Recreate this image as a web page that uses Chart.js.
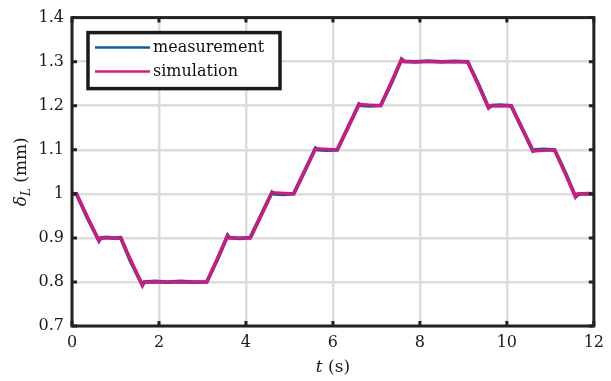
<!DOCTYPE html>
<html>
<head>
<meta charset="utf-8">
<script src="https://cdn.jsdelivr.net/npm/chart.js@4"></script>
<style>
  html, body { margin: 0; padding: 0; background: #fff; }
  #c { display: block; }
</style>
</head>
<body>
<canvas id="c" width="611" height="381"></canvas>
<script>
// time (s) and displacement (mm)
const simT = [0, 0.1, 0.62, 0.66, 1.12, 1.62, 1.66, 3.1, 3.58, 3.62, 4.1, 4.6, 5.1, 5.6, 6.1, 6.6, 7.1, 7.58, 7.62, 9.1, 9.58, 9.62, 10.1, 10.6, 11.1, 11.58, 11.62, 12];
const simY = [1.0, 1.0, 0.893, 0.9, 0.9, 0.792, 0.8, 0.8, 0.905, 0.9, 0.9, 1.003, 1.0, 1.103, 1.1, 1.203, 1.2, 1.305, 1.3, 1.3, 1.195, 1.2, 1.2, 1.097, 1.1, 0.993, 1.0, 1.0];

const measT = [0, 0.05, 0.1, 0.35, 0.62, 0.66, 0.8, 0.95, 1.12, 1.35, 1.62, 1.66, 1.9, 2.2, 2.5, 2.8, 3.1, 3.35, 3.58, 3.62, 3.85, 4.1, 4.35, 4.6, 4.65, 4.85, 5.1, 5.35, 5.6, 5.65, 5.85, 6.1, 6.35, 6.6, 6.65, 6.85, 7.1, 7.35, 7.58, 7.65, 7.9, 8.2, 8.5, 8.8, 9.1, 9.35, 9.58, 9.65, 9.85, 10.1, 10.35, 10.6, 10.65, 10.85, 11.1, 11.35, 11.58, 11.65, 11.85, 12];
const measY = [1.001, 0.9995, 1.0, 0.9465, 0.8935, 0.8995, 0.901, 0.8995, 0.9005, 0.8465, 0.7925, 0.7995, 0.801, 0.7995, 0.801, 0.7995, 0.8, 0.8525, 0.9055, 0.9005, 0.899, 0.9005, 0.9515, 1.0035, 1.0, 0.999, 1.0005, 1.0515, 1.1035, 1.1005, 1.0995, 1.1, 1.1515, 1.2035, 1.2005, 1.1995, 1.2005, 1.2525, 1.3055, 1.3005, 1.2995, 1.301, 1.2995, 1.3005, 1.2995, 1.2475, 1.1955, 1.2, 1.201, 1.1995, 1.1485, 1.0975, 1.1, 1.101, 1.0995, 1.0465, 0.9935, 0.9995, 1.0005, 1.0];

const xTicks = [0, 2, 4, 6, 8, 10, 12];
const yTicks = [0.7, 0.8, 0.9, 1.0, 1.1, 1.2, 1.3, 1.4];
const seriesNames = ['measurement', 'simulation'];
const seriesColors = ['#0b5ea6', '#e2127a'];

const FONT = 'DejaVu Serif';
const TEXT = '#1a1a1a';

const toXY = (ts, ys) => ts.map((t, i) => ({ x: t, y: ys[i] }));

const matlabFrame = {
  id: 'matlabFrame',
  afterDraw(chart) {
    const { ctx, chartArea: a, scales: { x, y } } = chart;
    ctx.save();
    // inward ticks
    ctx.strokeStyle = '#222';
    ctx.lineWidth = 3;
    const tl = 5;
    xTicks.forEach(v => {
      const px = x.getPixelForValue(v);
      ctx.beginPath();
      ctx.moveTo(px, a.bottom); ctx.lineTo(px, a.bottom - tl);
      ctx.moveTo(px, a.top); ctx.lineTo(px, a.top + tl);
      ctx.stroke();
    });
    yTicks.forEach(v => {
      const py = y.getPixelForValue(v);
      ctx.beginPath();
      ctx.moveTo(a.left, py); ctx.lineTo(a.left + tl, py);
      ctx.moveTo(a.right, py); ctx.lineTo(a.right - tl, py);
      ctx.stroke();
    });
    // box
    ctx.strokeRect(a.left, a.top, a.right - a.left, a.bottom - a.top);

    // legend
    const lx = a.left + 16, ly = a.top + 15, lw = 192, lh = 56;
    ctx.fillStyle = '#fff';
    ctx.fillRect(lx, ly, lw, lh);
    ctx.lineWidth = 3.5;
    ctx.strokeStyle = '#1a1a1a';
    ctx.strokeRect(lx, ly, lw, lh);
    ctx.font = '16px "' + FONT + '"';
    ctx.textBaseline = 'middle';
    ctx.textAlign = 'left';
    seriesNames.forEach((name, i) => {
      const yy = ly + 15 + i * 24;
      ctx.strokeStyle = seriesColors[i];
      ctx.lineWidth = 2.5;
      ctx.beginPath();
      ctx.moveTo(lx + 7, yy); ctx.lineTo(lx + 62, yy);
      ctx.stroke();
      ctx.fillStyle = '#111';
      ctx.fillText(name, lx + 65, yy);
    });

    // x title: t (s)
    const cx = (a.left + a.right) / 2;
    ctx.fillStyle = TEXT;
    ctx.font = 'italic 17px "' + FONT + '"';
    const tW = ctx.measureText('t').width;
    ctx.font = '17px "' + FONT + '"';
    const rW = ctx.measureText(' (s)').width;
    let sx = cx - (tW + rW) / 2;
    ctx.font = 'italic 17px "' + FONT + '"';
    ctx.fillText('t', sx, 368);
    ctx.font = '17px "' + FONT + '"';
    ctx.fillText(' (s)', sx + tW, 368);

    // y title: delta_L (mm)
    ctx.translate(22, (a.top + a.bottom) / 2);
    ctx.rotate(-Math.PI / 2);
    ctx.font = 'italic 17px "' + FONT + '"';
    const dW = ctx.measureText('δ').width;
    ctx.font = 'italic 12px "' + FONT + '"';
    const LW = ctx.measureText('L').width;
    ctx.font = '17px "' + FONT + '"';
    const mW = ctx.measureText(' (mm)').width;
    let p = -(dW + LW + mW) / 2;
    ctx.font = 'italic 17px "' + FONT + '"';
    ctx.fillText('δ', p, 0);
    ctx.font = 'italic 12px "' + FONT + '"';
    ctx.fillText('L', p + dW, 5);
    ctx.font = '17px "' + FONT + '"';
    ctx.fillText(' (mm)', p + dW + LW, 0);
    ctx.restore();
  }
};

new Chart(document.getElementById('c'), {
  type: 'scatter',
  data: {
    datasets: [
      {
        label: seriesNames[0],
        data: toXY(measT, measY),
        showLine: true,
        borderColor: seriesColors[0],
        borderWidth: 3.8,
        pointRadius: 0,
        tension: 0,
        order: 2
      },
      {
        label: seriesNames[1],
        data: toXY(simT, simY),
        showLine: true,
        borderColor: seriesColors[1],
        borderWidth: 3,
        pointRadius: 0,
        tension: 0,
        order: 1
      }
    ]
  },
  options: {
    responsive: false,
    animation: false,
    devicePixelRatio: 1,
    layout: { padding: { top: 17, right: 10, left: 0, bottom: 0 } },
    plugins: { legend: { display: false }, tooltip: { enabled: false } },
    scales: {
      x: {
        type: 'linear',
        min: 0, max: 12,
        afterBuildTicks: s => { s.ticks = xTicks.map(v => ({ value: v })); },
        afterFit: s => { s.height = 55; },
        ticks: {
          color: TEXT,
          font: { family: FONT, size: 16 },
          padding: 7,
          maxRotation: 0,
          callback: v => String(v)
        },
        grid: { color: '#dcdcdc', lineWidth: 2.5, drawTicks: false },
        border: { display: false }
      },
      y: {
        min: 0.7, max: 1.4,
        afterBuildTicks: s => { s.ticks = yTicks.map(v => ({ value: v })); },
        afterFit: s => { s.width = 72; },
        ticks: {
          color: TEXT,
          font: { family: FONT, size: 16 },
          padding: 8,
          callback: v => String(Math.round(v * 10) / 10)
        },
        grid: { color: '#dcdcdc', lineWidth: 2.5, drawTicks: false },
        border: { display: false }
      }
    }
  },
  plugins: [matlabFrame]
});
</script>
</body>
</html>
